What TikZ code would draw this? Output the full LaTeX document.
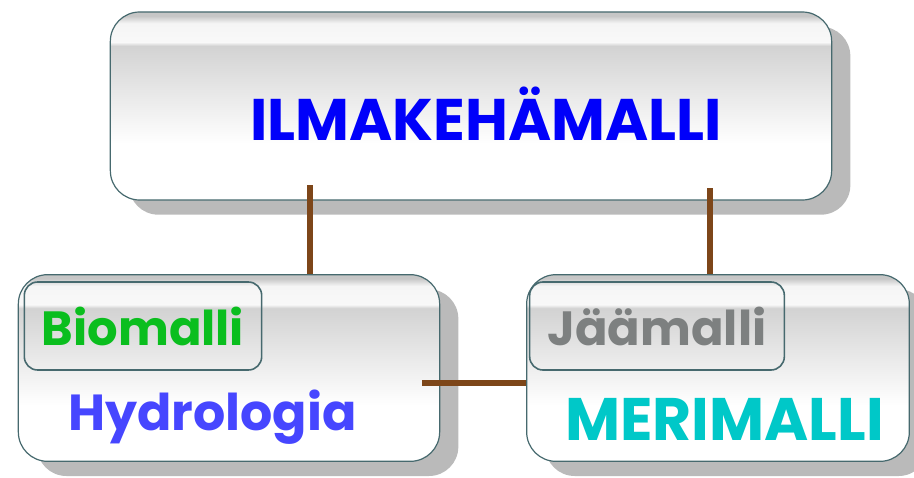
\documentclass[tikz,border=0pt]{standalone}
\usepackage{fontspec}
\setmainfont{Poppins}
\usetikzlibrary{shadows}
\definecolor{boxline}{RGB}{70,105,110}
\definecolor{linkbrown}{RGB}{125,70,25}
\definecolor{ilmablue}{RGB}{0,0,250}
\definecolor{hydblue}{RGB}{70,70,255}
\definecolor{biogreen}{RGB}{10,190,30}
\definecolor{jaagray}{RGB}{125,128,128}
\definecolor{mericyan}{RGB}{0,200,200}
\pgfdeclareverticalshading{glossy}{100bp}{color(0bp)=(white); color(40bp)=(white); color(66bp)=(gray!35); color(67bp)=(gray!5); color(72bp)=(white!92!gray); color(74bp)=(gray!45); color(100bp)=(gray!45)}
\tikzset{
  modelbox/.style={draw=boxline, line width=0.9pt, rounded corners=22pt, shading=glossy,
    drop shadow={shadow xshift=14pt, shadow yshift=-11pt, fill=gray!60, opacity=0.9}},
  subbox/.style={draw=boxline, line width=1.2pt, rounded corners=10pt, inner sep=0pt},
  modeltext/.style={inner sep=0pt, anchor=base west, font=\fontsize{44}{50}\selectfont\bfseries},
  link/.style={draw=linkbrown, line width=3.8pt}
}
\begin{document}
\begin{tikzpicture}[x=0.75pt,y=0.75pt,yscale=-1,xscale=1]
\useasboundingbox (0,0) rectangle (914,478);
% laatikot
\node [modelbox, minimum width=541pt, minimum height=141pt] (ilma) at (471,106) {};
\node [modelbox, minimum width=316pt, minimum height=140pt] (maa) at (229,368) {};
\node [modelbox, minimum width=287pt, minimum height=140pt] (meri) at (718,368) {};
% tekstit
\node [modeltext, text=ilmablue] (ilmatxt) at (250,140) {ILMAKEHÄMALLI};
\node [subbox, minimum width=178pt, minimum height=66pt, text=biogreen, font=\fontsize{36}{42}\selectfont\bfseries] (bio) at (143,326) {Biomalli};
\node [modeltext, text=hydblue, font=\fontsize{38}{44}\selectfont\bfseries] (hydtxt) at (68,430) {Hydrologia};
\node [subbox, minimum width=191pt, minimum height=66pt, text=jaagray, font=\fontsize{36}{42}\selectfont\bfseries] (jaa) at (657,326) {Jäämalli};
\node [modeltext, text=mericyan, font=\fontsize{45}{50}\selectfont\bfseries] (meritxt) at (565,440) {MERIMALLI};
% yhteydet
\coordinate (up1) at (310,185);
\coordinate (up2) at (710,188);
\coordinate (side) at (422,383);
\draw [link] (up1) -- (up1 |- maa.north);
\draw [link] (up2) -- (up2 |- meri.north);
\draw [link] (side) -- (side -| meri.west);
\end{tikzpicture}
\end{document}
